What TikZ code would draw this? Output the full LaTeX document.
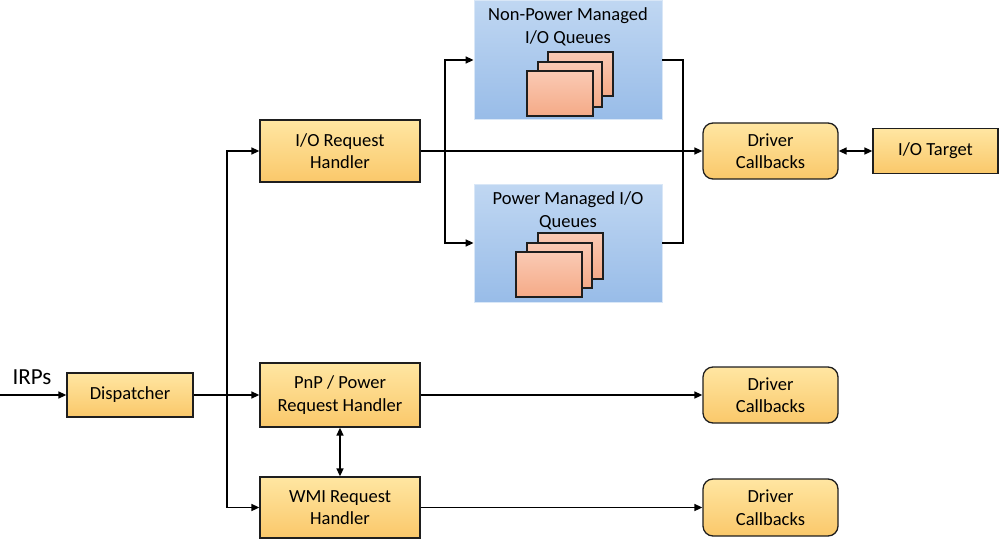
\documentclass[tikz,border=0pt]{standalone}
\usepackage{fontspec}
\setmainfont{Carlito}
\usetikzlibrary{arrows.meta,shadings}
\definecolor{otop}{RGB}{255,230,162}
\definecolor{obot}{RGB}{250,200,106}
\definecolor{btop}{RGB}{192,215,242}
\definecolor{bbot}{RGB}{152,188,232}
\definecolor{ptop}{RGB}{250,202,180}
\definecolor{pbot}{RGB}{245,170,135}
\definecolor{edge}{RGB}{30,30,30}
\tikzset{
  obox/.style={draw=edge, line width=1.3pt, top color=otop, bottom color=obot, align=center, font=\fontsize{18.5}{22.5}\selectfont, inner sep=0pt},
  cbbox/.style={obox, rounded corners=10pt},
  qbox/.style={draw=btop!60!white, line width=0.8pt, top color=btop, bottom color=bbot, inner sep=0pt},
  page/.style={draw=edge, line width=1.3pt, top color=ptop, bottom color=pbot},
  lbl/.style={align=center, font=\fontsize{18.5}{22.5}\selectfont, inner sep=0pt},
  conn/.style={line width=1.6pt, draw=black},
  arr/.style={conn, -{Triangle[length=8pt,width=7pt]}},
  darr/.style={conn, {Triangle[length=8pt,width=7pt]}-{Triangle[length=8pt,width=7pt]}}
}
\begin{document}
\begin{tikzpicture}[x=1pt,y=-1pt]
\useasboundingbox (0,0) rectangle (1000,540);
% boxes
\node[obox, minimum width=126pt, minimum height=44pt] (disp) at (130,395) {Dispatcher};
\node[obox, minimum width=160pt, minimum height=62pt] (ioreq) at (340,151) {I/O Request\\Handler};
\node[obox, minimum width=160pt, minimum height=64pt] (pnp) at (340,395) {PnP / Power\\Request Handler};
\node[obox, minimum width=160pt, minimum height=61pt] (wmi) at (340,507.5) {WMI Request\\Handler};
\node[cbbox, minimum width=135pt, minimum height=56pt] (dc1) at (770.5,151) {Driver\\Callbacks};
\node[obox, minimum width=125pt, minimum height=45pt] (iot) at (935.5,151) {I/O Target};
\node[cbbox, minimum width=135pt, minimum height=56pt] (dc2) at (770.5,395) {Driver\\Callbacks};
\node[cbbox, minimum width=135pt, minimum height=57pt] (dc3) at (770.5,507.5) {Driver\\Callbacks};
% queue boxes
\node[qbox, minimum width=188pt, minimum height=119pt] (npq) at (568,60) {};
\node[qbox, minimum width=188pt, minimum height=118pt] (pq) at (568,243) {};
\node[lbl] (npqt) at (568,27) {Non-Power Managed\\I/O Queues};
\node[lbl] (pqt) at (568,211) {Power Managed I/O\\Queues};
% pages
\draw[page] (548,52) rectangle (613,96);
\draw[page] (538,62) rectangle (602,107);
\draw[page] (527,71) rectangle (593,116);
\draw[page] (538,233) rectangle (603,279);
\draw[page] (527,243) rectangle (592,288);
\draw[page] (516,252) rectangle (582,297);
% IRPs
\node[inner sep=0pt, font=\fontsize{23}{26}\selectfont] (irps) at (32,377) {IRPs};
\coordinate (in) at (0,395);
\draw[arr] (in) -- (disp.west);
% dispatcher split
\coordinate (j1) at (227,395);
\draw[arr] (disp.east) -- (pnp.west);
\draw[arr] (j1) |- (ioreq.west);
\draw[arr] (j1) |- (wmi.west);
% io request split
\coordinate (j2) at (445,151);
\coordinate (j3) at (683,151);
\draw[arr] (ioreq.east) -- (dc1.west);
\draw[arr] (j2) |- (npq.west);
\draw[arr] (j2) |- (pq.west);
\draw[conn] (npq.east) -| (j3);
\draw[conn] (pq.east) -| (j3);
% others
\draw[darr] (dc1.east) -- (iot.west);
\draw[arr] (pnp.east) -- (dc2.west);
\draw[arr] (wmi.east) -- (dc3.west);
\draw[darr] (pnp.south) -- (wmi.north);
\end{tikzpicture}
\end{document}
